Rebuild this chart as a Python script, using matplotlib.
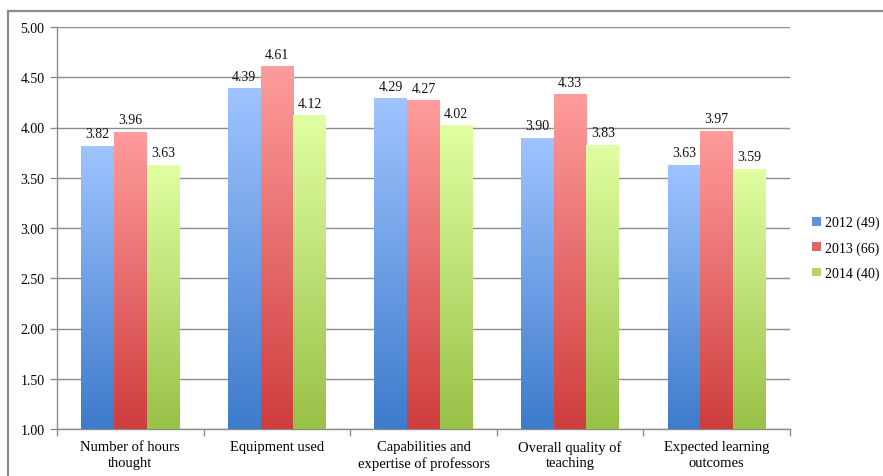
import numpy as np
import matplotlib
matplotlib.use("Agg")
import matplotlib.pyplot as plt
from matplotlib.colors import LinearSegmentedColormap
from matplotlib.patches import Patch, Rectangle

categories = ["Number of hours\nthought", "Equipment used",
              "Capabilities and\nexpertise of professors",
              "Overall quality of\nteaching", "Expected learning\noutcomes"]
series_names = ["2012 (49)", "2013 (66)", "2014 (40)"]
values_2012 = [3.82, 4.39, 4.29, 3.90, 3.63]
values_2013 = [3.96, 4.61, 4.27, 4.33, 3.97]
values_2014 = [3.63, 4.12, 4.02, 3.83, 3.59]
y_ticks = [1.0, 1.5, 2.0, 2.5, 3.0, 3.5, 4.0, 4.5, 5.0]

series = [values_2012, values_2013, values_2014]
# (bottom colour, top colour) for each series gradient
gradients = [("#3D7BCB", "#9FC4FF"), ("#CF3D3D", "#FF9C9C"), ("#98C147", "#E0FFA2")]
legend_colors = ["#5F93DC", "#E06666", "#B3D86A"]

plt.rcParams["font.family"] = ["Liberation Serif", "DejaVu Serif"]

fig = plt.figure(figsize=(8.83, 4.77), dpi=100)
W, H = 883, 477
ax = fig.add_axes([57 / W, 1 - 430 / H, 733 / W, 402 / H])

# outer frame of the chart
fig.patches.append(Rectangle((8 / W, -0.1), 1.2, (H - 12) / H + 0.1,
                             transform=fig.transFigure, fill=False,
                             edgecolor="#8A8A8A", linewidth=1.6, zorder=0))

x = np.arange(len(categories))
width = 0.223
grad = np.linspace(0, 1, 256).reshape(-1, 1)

for i, (vals, (c0, c1)) in enumerate(zip(series, gradients)):
    cmap = LinearSegmentedColormap.from_list(f"g{i}", [c0, c1])
    bars = ax.bar(x + (i - 1) * width, [v - 1.0 for v in vals], width,
                  bottom=1.0, color="none", edgecolor="none", zorder=3)
    for bar, v in zip(bars, vals):
        bx, by = bar.get_x(), bar.get_y()
        bw, bh = bar.get_width(), bar.get_height()
        im = ax.imshow(grad, extent=(bx, bx + bw, by, by + bh), origin="lower",
                       cmap=cmap, aspect="auto", zorder=3)
        im.set_clip_path(bar)
        ax.annotate(f"{v:.2f}", (bx + bw / 2, by + bh), xytext=(0, 4),
                    textcoords="offset points", ha="center", va="bottom",
                    fontsize=10, color="#111111", zorder=4)

ax.set_xlim(-0.5, len(categories) - 0.5)
ax.set_ylim(1.0, 5.0)
ax.set_yticks(y_ticks)
ax.set_yticklabels([f"{t:.2f}" for t in y_ticks], fontsize=10)
ax.yaxis.grid(True, color="#8C8C8C", linewidth=1.0, zorder=0)
ax.set_axisbelow(True)

ax.set_xticks(x)
ax.set_xticklabels(categories, fontsize=10.5, linespacing=1.25)
ax.tick_params(axis="x", length=0, pad=8)
ax.set_xticks(np.arange(-0.5, len(categories)), minor=True)
ax.tick_params(axis="x", which="minor", length=5, color="#8C8C8C", width=1)
ax.tick_params(axis="y", length=5, color="#8C8C8C", width=1, pad=4)

for s in ["top", "right"]:
    ax.spines[s].set_visible(False)
for s in ["left", "bottom"]:
    ax.spines[s].set_color("#8C8C8C")
    ax.spines[s].set_linewidth(1.0)

handles = [Patch(facecolor=c, edgecolor="none") for c in legend_colors]
fig.legend(handles, series_names, loc="center left",
           bbox_to_anchor=(808 / W, 1 - 249 / H), frameon=False, fontsize=10,
           handlelength=0.6, handleheight=0.6, handletextpad=0.35,
           labelspacing=0.85, borderaxespad=0, borderpad=0.3)

fig.savefig("out.png", dpi=100)
